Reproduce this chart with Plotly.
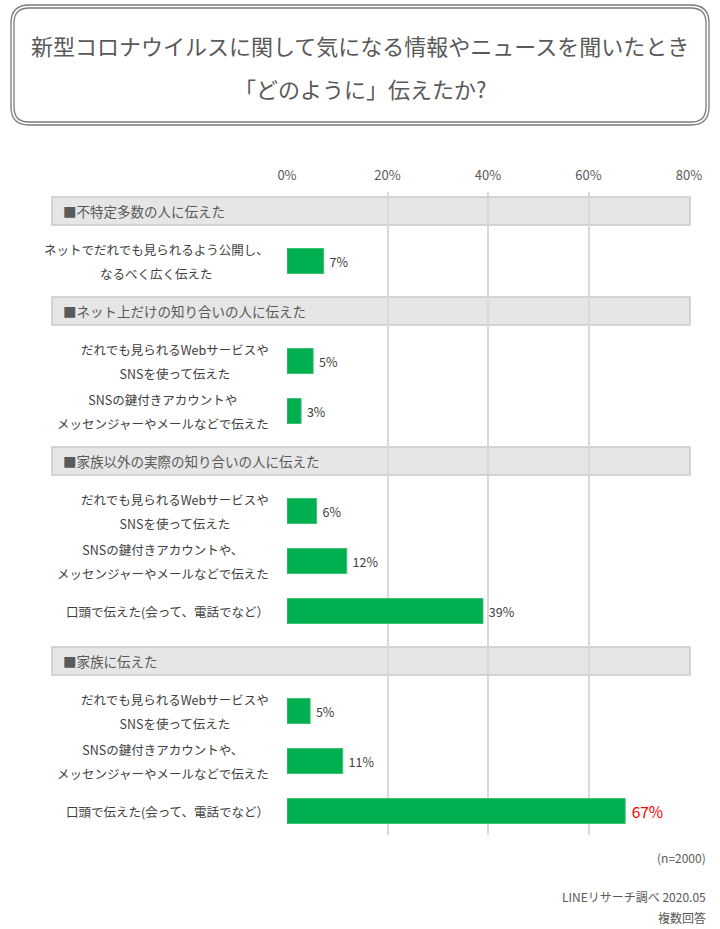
import plotly.graph_objects as go

# survey data
group_names = [
    "■不特定多数の人に伝えた",
    "■ネット上だけの知り合いの人に伝えた",
    "■家族以外の実際の知り合いの人に伝えた",
    "■家族に伝えた",
]
item_group = [0, 1, 1, 2, 2, 2, 3, 3, 3]
item_lines = [
    ["ネットでだれでも見られるよう公開し、", "なるべく広く伝えた"],
    ["だれでも見られるWebサービスや", "SNSを使って伝えた"],
    ["SNSの鍵付きアカウントや", "メッセンジャーやメールなどで伝えた"],
    ["だれでも見られるWebサービスや", "SNSを使って伝えた"],
    ["SNSの鍵付きアカウントや、", "メッセンジャーやメールなどで伝えた"],
    ["口頭で伝えた(会って、電話でなど）"],
    ["だれでも見られるWebサービスや", "SNSを使って伝えた"],
    ["SNSの鍵付きアカウントや、", "メッセンジャーやメールなどで伝えた"],
    ["口頭で伝えた(会って、電話でなど）"],
]
values = [7.3, 5.2, 2.8, 5.9, 11.9, 39.0, 4.6, 11.1, 67.3]
value_labels = ["7%", "5%", "3%", "6%", "12%", "39%", "5%", "11%", "67%"]
x_ticks = [0, 20, 40, 60, 80]

FONT = "Noto Sans CJK JP"
GREY = "#595959"
DARK = "#404040"
GREEN = "#00B050"

# plot area in pixels
L, R, T, B = 287, 689, 192, 835
W, H = 720, 929


def px(x):
    return (x - L) / (R - L)


def py(y):
    return (B - y) / (B - T)


def rrect(x0, y0, x1, y1, r):
    # rounded rectangle path in paper coords, args in pixels
    pts = [
        ("M", x0 + r, y0), ("L", x1 - r, y0), ("Q", x1, y0, x1, y0 + r),
        ("L", x1, y1 - r), ("Q", x1, y1, x1 - r, y1),
        ("L", x0 + r, y1), ("Q", x0, y1, x0, y1 - r),
        ("L", x0, y0 + r), ("Q", x0, y0, x0 + r, y0),
    ]
    out = ""
    for p in pts:
        cmd = p[0]
        coords = p[1:]
        s = []
        for i in range(0, len(coords), 2):
            s.append("%.5f,%.5f" % (px(coords[i]), py(coords[i + 1])))
        out += cmd + " ".join(s) + " "
    return out + "Z"


# build row keys: header row then its items
rows = []
item_rows = []
header_rows = []
for g in range(len(group_names)):
    key = "h%d" % g
    rows.append(key)
    header_rows.append(key)
    for i, gi in enumerate(item_group):
        if gi == g:
            k = "i%d" % i
            rows.append(k)
            item_rows.append(k)

text_colors = [("#FF0000" if v == max(values) else DARK) for v in values]
text_sizes = [(15.5 if v == max(values) else 12.5) for v in values]

fig = go.Figure(
    go.Bar(
        x=values,
        y=item_rows,
        orientation="h",
        width=0.5,
        marker=dict(color=GREEN, line=dict(color="#3cc26f", width=1)),
        text=["\u00a0" + t for t in value_labels],
        textposition="outside",
        textfont=dict(family=FONT, color=text_colors, size=text_sizes),
        constraintext="none",
        cliponaxis=False,
        hoverinfo="skip",
    )
)

shapes = []
annotations = []

# group header bands
for g, key in enumerate(header_rows):
    idx = rows.index(key)
    shapes.append(dict(
        type="rect", xref="paper", yref="y", layer="between",
        x0=px(52), x1=px(690), y0=idx - 0.28, y1=idx + 0.28,
        fillcolor="#e6e6e6", line=dict(color="#c9c9c9", width=1.5),
    ))
    annotations.append(dict(
        xref="paper", yref="y", x=px(61), y=key, text=group_names[g],
        xanchor="left", yanchor="middle", showarrow=False,
        font=dict(family=FONT, size=13.5, color=GREY),
    ))

# item labels, centred lines, right aligned block
for i, key in enumerate(item_rows):
    txt = "<br>".join("<span style='font-size:12.5px'>%s</span>" % s for s in item_lines[i])
    annotations.append(dict(
        xref="paper", yref="y", x=0, y=key, xshift=-16, text=txt,
        xanchor="right", yanchor="middle", align="center", showarrow=False,
        font=dict(family=FONT, size=18.5, color=DARK),
    ))

# title box (double border)
shapes.append(dict(type="path", xref="paper", yref="paper",
                   path=rrect(11, 5, 709, 125, 18),
                   line=dict(color="#7a7a7a", width=1.3)))
shapes.append(dict(type="path", xref="paper", yref="paper",
                   path=rrect(14, 8, 706, 122, 15),
                   line=dict(color="#7a7a7a", width=1.3)))

for txt, y in [("新型コロナウイルスに関して気になる情報やニュースを聞いたとき", 45),
               ("「どのように」伝えたか?", 88)]:
    annotations.append(dict(
        xref="paper", yref="paper", x=px(360), y=py(y), text=txt,
        xanchor="center", yanchor="middle", showarrow=False,
        font=dict(family=FONT, size=22, color=GREY),
    ))

for txt, y in [("(n=2000)", 857), ("LINEリサーチ調べ 2020.05", 896), ("複数回答", 917)]:
    annotations.append(dict(
        xref="paper", yref="paper", x=px(708), y=py(y), text=txt,
        xanchor="right", yanchor="middle", showarrow=False,
        font=dict(family=FONT, size=12, color=GREY),
    ))

fig.update_xaxes(
    range=[0, 80], side="top", tickvals=x_ticks,
    ticktext=["%d%%" % t for t in x_ticks],
    showgrid=True, gridcolor="#d9d9d9", gridwidth=1.5,
    zeroline=False, showline=False, ticks="", ticklabelstandoff=8,
    tickfont=dict(family=FONT, size=13, color=GREY),
    fixedrange=True,
)
fig.update_yaxes(
    type="category", categoryorder="array", categoryarray=rows,
    range=[len(rows) - 1 + 0.48, -0.38],
    showticklabels=False, showgrid=False, zeroline=False, ticks="",
    fixedrange=True,
)

fig.update_layout(
    width=W, height=H,
    margin=dict(l=L, r=W - R, t=T, b=H - B),
    paper_bgcolor="white", plot_bgcolor="white",
    showlegend=False,
    font=dict(family=FONT, color=GREY),
    shapes=shapes,
    annotations=annotations,
    bargap=0.5,
)

# drop the default page margin so the figure sits at the window origin
fig.write_html("out.html", config={"displayModeBar": False},
               post_script="document.body.style.margin='0';")
